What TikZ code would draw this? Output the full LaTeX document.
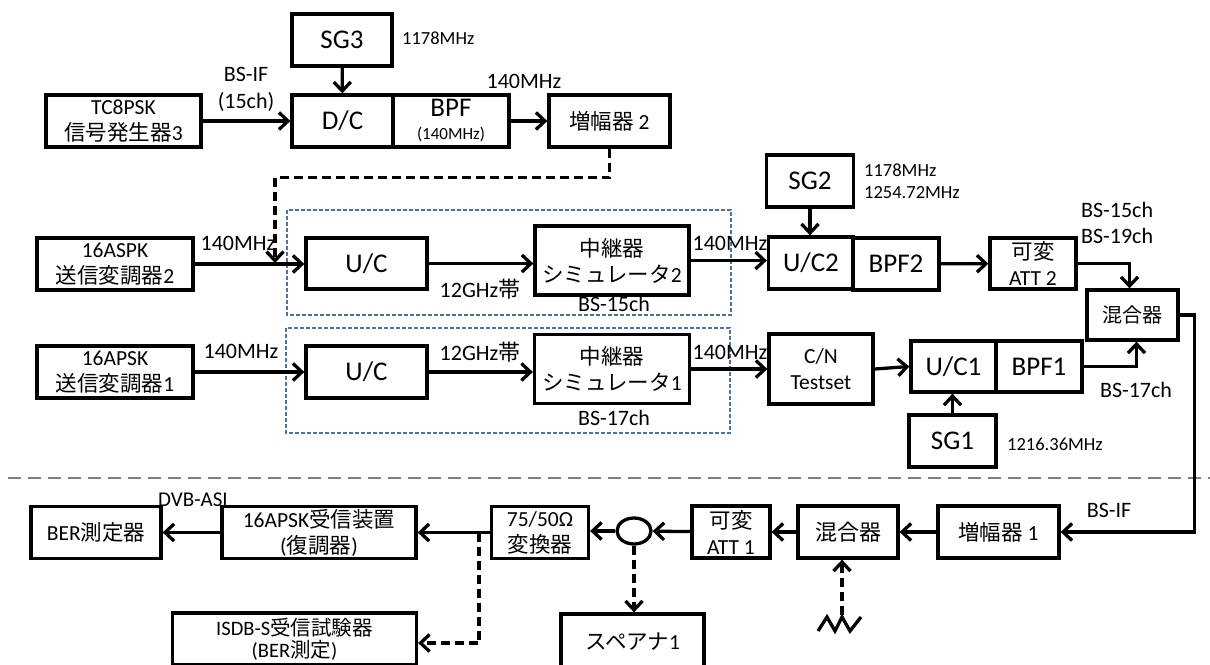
\documentclass[tikz,border=0pt]{standalone}
\usepackage{fontspec}
\setmainfont{Carlito}
\newfontfamily\jpfont{Noto Sans CJK JP}
\usepackage{tikz}
\usetikzlibrary{arrows.meta, positioning, shapes.geometric}
\tikzset{
    rfblock/.style={rectangle, draw=black, fill=white, line width=3.3pt, inner sep=0pt, align=center, font=\fontsize{21.5}{26}\selectfont},
    rfbig/.style={font=\fontsize{27}{30}\selectfont},
    rfarrow/.style={-{Straight Barb[length=9pt, width=17pt]}, line width=3.3pt},
    rfdash/.style={rfarrow, dash pattern=on 9pt off 5pt},
    rfnote/.style={inner sep=0pt, align=center, font=\fontsize{22}{26}\selectfont},
    rffreq/.style={inner sep=0pt, anchor=west, align=left, font=\fontsize{18.5}{22}\selectfont},
    rfgroup/.style={draw=#1, line width=1.2pt, dash pattern=on 4pt off 2pt},
    rfsep/.style={draw=#1, line width=2pt, dash pattern=on 13pt off 7pt}
}
\definecolor{groupblue}{RGB}{79,113,158}
\definecolor{sepgray}{RGB}{128,128,128}

\begin{document}
\begin{tikzpicture}[x=1pt, y=-1pt]
\useasboundingbox (0,0) rectangle (1210,664);

\draw[rfgroup=groupblue] (287,210) rectangle (731,315);
\draw[rfgroup=groupblue] (286,328) rectangle (730,433);
\draw[rfsep=sepgray] (8,478) -- (1210,478);

\node[rfblock, rfbig, minimum width=100pt, minimum height=52pt] (sgthree) at (342,40) {SG3};
\node[rfblock, minimum width=155pt, minimum height=52pt] (tcgen) at (123.5,121) {TC8PSK\\{\jpfont 信号発生器}3};
\node[rfblock, rfbig, minimum width=101pt, minimum height=52pt] (dc) at (342.5,121) {D/C};
\node[rfblock, font=\fontsize{27}{28}\selectfont, minimum width=116pt, minimum height=52pt] (bpf) at (451,121) {BPF\\[-5pt]{\fontsize{17}{18}\selectfont(140MHz)}};
\node[rfblock, minimum width=121pt, minimum height=52pt] (amptwo) at (609.5,121) {{\jpfont 増幅器} 2};

\node[rfblock, minimum width=156pt, minimum height=52pt] (txtwo) at (115,264) {16ASPK\\{\jpfont 送信変調器}2};
\node[rfblock, rfbig, minimum width=121pt, minimum height=51pt] (uca) at (366.5,263.5) {U/C};
\node[rfblock, minimum width=154pt, minimum height=69pt] (simtwo) at (612,260.5) {{\jpfont 中継器}\\{\jpfont シミュレータ}2};
\node[rfblock, rfbig, minimum width=87pt, minimum height=52pt] (sgtwo) at (810,181) {SG2};
\node[rfblock, rfbig, minimum width=85pt, minimum height=52pt] (uctwo) at (811,263) {U/C2};
\node[rfblock, rfbig, minimum width=86pt, minimum height=52pt] (bpftwo) at (896,264) {BPF2};
\node[rfblock, minimum width=86pt, minimum height=51pt] (atttwo) at (1033,263.5) {{\jpfont 可変}\\ATT 2};
\node[rfblock, font=\fontsize{20}{24}\selectfont, minimum width=91pt, minimum height=50pt] (mixup) at (1132.5,315) {{\jpfont 混合器}};

\node[rfblock, minimum width=156pt, minimum height=52pt] (txone) at (115,372) {16APSK\\{\jpfont 送信変調器}1};
\node[rfblock, rfbig, minimum width=121pt, minimum height=52pt] (ucb) at (366.5,372) {U/C};
\node[rfblock, minimum width=155pt, minimum height=69pt] (simone) at (612,369) {{\jpfont 中継器}\\{\jpfont シミュレータ}1};
\node[rfblock, minimum width=104pt, minimum height=70pt] (cn) at (821,369) {C/N\\Testset};
\node[rfblock, rfbig, minimum width=85pt, minimum height=51pt] (ucone) at (953.5,366.5) {U/C1};
\node[rfblock, rfbig, minimum width=86pt, minimum height=51pt] (bpfone) at (1039,366.5) {BPF1};
\node[rfblock, rfbig, minimum width=87pt, minimum height=52pt] (sgone) at (952.5,441) {SG1};

\node[rfblock, minimum width=130pt, minimum height=52pt] (ber) at (96,532.5) {BER{\jpfont 測定器}};
\node[rfblock, minimum width=194pt, minimum height=52pt] (rx) at (319,532.5) {16APSK{\jpfont 受信装置}\\({\jpfont 復調器})};
\node[rfblock, font=\fontsize{20.5}{22}\selectfont, minimum width=244pt, minimum height=52pt] (isdb) at (294.5,639) {ISDB-S{\jpfont 受信試験器}\\(BER{\jpfont 測定})};
\node[rfblock, minimum width=97pt, minimum height=52pt] (conv) at (540,532.5) {75/50Ω\\{\jpfont 変換器}};
\node[ellipse, draw=black, line width=3.3pt, fill=white, minimum width=34pt, minimum height=26pt, inner sep=0pt] (split) at (634,531) {};
\node[rfblock, minimum width=143pt, minimum height=56pt] (spec) at (632.5,642) {{\jpfont スペアナ}1};
\node[rfblock, minimum width=78pt, minimum height=52pt] (attone) at (731,532) {{\jpfont 可変}\\ATT 1};
\node[rfblock, font=\fontsize{22}{26}\selectfont, minimum width=100pt, minimum height=52pt] (mixlow) at (848,532) {{\jpfont 混合器}};
\node[rfblock, minimum width=121pt, minimum height=52pt] (ampone) at (998.5,532) {{\jpfont 増幅器} 1};

\node[rffreq] (fsgthree) at (402,38) {1178MHz};
\node[rfnote, font=\fontsize{22}{27}\selectfont] (bsif) at (246,89.5) {BS-IF\\(15ch)};
\node[rfnote] (ifout) at (524,81) {140MHz};
\node[rfnote] (iftwo) at (238,243) {140MHz};
\node[rfnote] (ifone) at (241,351) {140MHz};
\node[rfnote] (kutwo) at (480,289) {12GHz{\jpfont 帯}};
\node[rfnote] (kuone) at (480,352) {12GHz{\jpfont 帯}};
\node[rfnote] (chtwo) at (614,304) {BS-15ch};
\node[rfnote] (chone) at (614,418) {BS-17ch};
\node[rfnote] (simouttwo) at (730,243) {140MHz};
\node[rfnote] (simoutone) at (730,352) {140MHz};
\node[rffreq] (fsgtwo) at (864,181) {1178MHz\\1254.72MHz};
\node[rfnote, anchor=west, align=left] (chmix) at (1081,223) {BS-15ch\\BS-19ch};
\node[rfnote] (chsub) at (1136,390) {BS-17ch};
\node[rffreq] (fsgone) at (1007,444) {1216.36MHz};
\node[rfnote, font=\fontsize{21}{24}\selectfont] (asi) at (193,500) {DVB-ASI};
\node[rfnote] (bsifret) at (1109,510) {BS-IF};

\coordinate (merge) at (275,263);
\coordinate (tap) at (479,532.5);
\coordinate (noise) at (842,615);
\draw[line width=3.3pt] (818,631) -- (827,617) -- (835,631) -- (842,617) -- (850,631) -- (861,617);

\draw[rfarrow] (sgthree) -- (dc);
\draw[rfarrow] (tcgen) -- (dc);
\draw[rfarrow] (bpf) -- (amptwo);
\draw[rfdash] (amptwo.south) -- ++(0,29) -| (merge);
\draw[rfarrow] (txtwo.east) -- (txtwo.east -| uca.west);
\draw[rfarrow] (uca.east) -- (uca.east -| simtwo.west);
\draw[rfarrow] (simtwo.east) -- (simtwo.east -| uctwo.west);
\draw[rfarrow] (sgtwo.south) -- (sgtwo.south |- uctwo.north);
\draw[rfarrow] (bpftwo) -- (atttwo);
\draw[rfarrow] (atttwo.east) -| ([xshift=-3pt]mixup.north);
\draw[rfarrow] (txone) -- (ucb);
\draw[rfarrow] (ucb) -- (ucb -| simone.west);
\draw[rfarrow] (simone) -- (cn);
\draw[rfarrow] (cn.east) -- (ucone.west);
\draw[rfarrow] (sgone.north) -- (sgone.north |- ucone.south);
\draw[rfarrow] (bpfone.east) -| ([xshift=4pt]mixup.south);
\draw[rfarrow] (mixup.east) -- ++(15,0) |- (ampone.east);
\draw[rfarrow] (ampone) -- (mixlow);
\draw[rfarrow] (mixlow) -- (attone);
\draw[rfarrow] (attone) -- (split);
\draw[rfarrow] (split) -- (split -| conv.east);
\draw[rfarrow] (conv) -- (rx);
\draw[rfarrow] (rx) -- (ber);
\draw[rfdash] (split.south) -- (split.south |- spec.north);
\draw[rfdash] (tap) |- ([yshift=-4pt]isdb.east);
\draw[rfdash] (noise) -- (noise |- mixlow.south);

\end{tikzpicture}
\end{document}
